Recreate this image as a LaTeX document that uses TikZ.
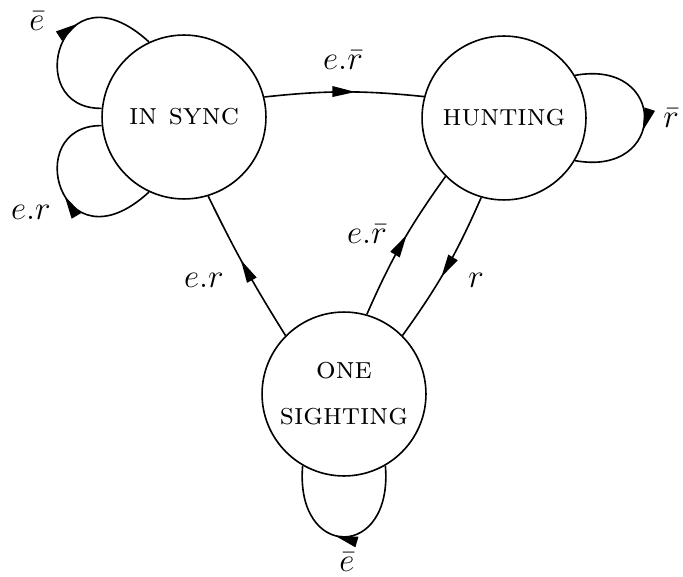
\documentclass[tikz,border=0pt]{standalone}
\usetikzlibrary{arrows.meta,decorations.markings}
\begin{document}
\begin{tikzpicture}[x=0.435pt,y=-0.435pt,
  state/.style={circle,draw,line width=0.7pt,minimum size=71.3pt,inner sep=0pt,
    font=\fontsize{13.4}{16}\selectfont\scshape},
  edge/.style={line width=0.7pt},
  midarrow/.style={postaction={decorate},decoration={markings,
    mark=at position #1 with {\arrow{Triangle[length=10pt,width=4.6pt]}}}},
  midarrow/.default=0.56,
  lbl/.style={font=\fontsize{14}{16}\selectfont,inner sep=0pt}]
\useasboundingbox (0,0) rectangle (683,576);

% states
\node[state] (insync) at (184,117) {in sync};
\node[state] (hunting) at (504,118) {hunting};
\node[state,align=center] (one) at (344,394) {one\\[4pt]sighting};

% transitions between states
\draw[edge,midarrow=0.57] (insync.14) to[bend left=6] (hunting.165);
\draw[edge,midarrow] (hunting.254) to[bend left=6] (one.45);
\draw[edge,midarrow] (one.74) to[bend left=6] (hunting.225);
\draw[edge,midarrow=0.55] (one.135) to[bend left=3] (insync.-73);

% self loops
\draw[edge,midarrow=0.57] (hunting.31) .. controls +(93,-17) and +(93,17) .. (hunting.-31);
\draw[edge,midarrow=0.6] (insync.174) .. controls +(-82,1) and +(-89,-82) .. (insync.115);
\draw[edge,midarrow=0.5] (insync.-115) .. controls +(-89,82) and +(-82,-1) .. (insync.186);
\draw[edge,midarrow=0.55] (one.-60) .. controls +(8,95) and +(-8,95) .. (one.-120);

% labels
\node[lbl] (l1) at (37,21) {$\bar e$};
\node[lbl] (l2) at (31,212) {$e.r$};
\node[lbl] (l3) at (343,60) {$e.\bar r$};
\node[lbl] (l4) at (671,118) {$\bar r$};
\node[lbl] (l5) at (367,234) {$e.\bar r$};
\node[lbl] (l6) at (476,280) {$r$};
\node[lbl] (l7) at (204,280) {$e.r$};
\node[lbl] (l8) at (347,562) {$\bar e$};
\end{tikzpicture}
\end{document}
